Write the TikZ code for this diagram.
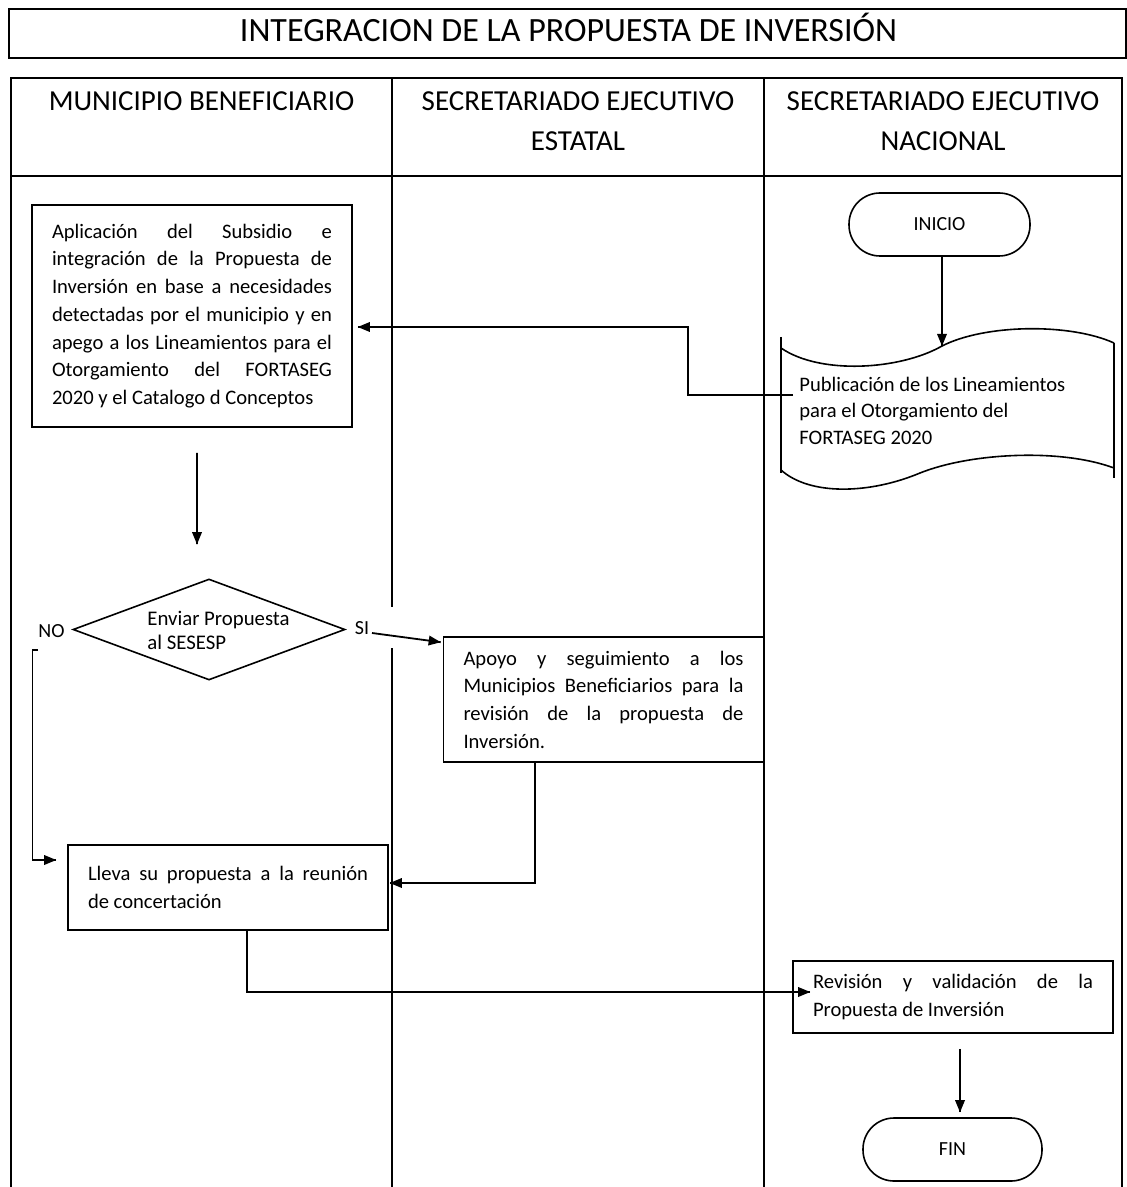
\documentclass[tikz,border=0pt]{standalone}
\usepackage{fontspec}
\setmainfont{Carlito}
\usetikzlibrary{shapes.geometric}
\tolerance=10000
\hyphenpenalty=10000

\begin{document}
\begin{tikzpicture}[x=5pt,y=5pt]
\tikzstyle{every node}+=[inner sep=0pt]
\tikzstyle{linea}=[black, line width=0.8pt]
\tikzstyle{flecha}=[black, line width=0.9pt]
\tikzstyle{caja}=[draw=black, line width=0.8pt, text width=140pt, minimum width=160pt, inner xsep=10pt, align=justify, font=\fontsize{10.3}{13.85}\selectfont]
\tikzstyle{terminal}=[draw=black, line width=0.8pt, rounded corners=15.5pt, minimum width=90.5pt, minimum height=31.5pt, font=\fontsize{10}{12}\selectfont]
\tikzstyle{encabezado}=[anchor=north, align=center, font=\fontsize{14.5}{20}\selectfont]
\tikzstyle{etiqueta}=[font=\fontsize{10}{12}\selectfont]
\useasboundingbox (0,0) rectangle (112.7,-118.7);
\draw [linea] (0.9,-0.9) rectangle (112.6,-5.8);
\node (titulo) at (56.85,-4.2) [anchor=base, font=\fontsize{17}{20}\selectfont] {INTEGRACION DE LA PROPUESTA DE INVERSIÓN};
\draw [linea] (1.1,-118.7) -- (1.1,-7.8) -- (112.2,-7.8) -- (112.2,-118.7);
\draw [linea] (1.1,-17.6) -- (112.2,-17.6);
\draw [linea] (39.2,-7.8) -- (39.2,-60.7);
\draw [linea] (39.2,-64.8) -- (39.2,-118.7);
\draw [linea] (76.4,-7.8) -- (76.4,-118.7);
\node (municipio) at (20.15,-9.1) [encabezado] {MUNICIPIO BENEFICIARIO};
\node (estatal) at (57.8,-9.1) [encabezado] {SECRETARIADO EJECUTIVO\\ESTATAL};
\node (nacional) at (94.3,-9.1) [encabezado] {SECRETARIADO EJECUTIVO\\NACIONAL};
\node (aplicacion) at (19.2,-31.6) [caja, minimum height=111pt] {Aplicación del Subsidio e\linebreak integración de la Propuesta de\linebreak Inversión en base a necesidades\linebreak detectadas por el municipio y en\linebreak apego a los Lineamientos para el\linebreak Otorgamiento del FORTASEG\linebreak 2020 y el Catalogo d Conceptos};
\node (apoyo) at (60.35,-69.95) [caja, minimum height=62.5pt] {Apoyo y seguimiento a los\linebreak Municipios Beneficiarios para la\linebreak revisión de la propuesta de\linebreak Inversión.};
\node (lleva) at (22.8,-88.75) [caja, minimum height=42.5pt] {Lleva su propuesta a la reunión\linebreak de concertación};
\node (revision) at (95.3,-99.7) [caja, minimum height=36pt] {Revisión y validación de la\linebreak Propuesta de Inversión};
\node (inicio) at (93.95,-22.45) [terminal] {INICIO};
\node (fin) at (95.25,-114.95) [terminal, minimum width=89.5pt] {FIN};
\node (enviar) at (20.9,-62.95) [diamond, draw=black, line width=0.8pt, minimum width=136pt, minimum height=50.5pt] {};
\node (enviartxt) at (14.7,-63.0) [anchor=west, align=left, font=\fontsize{10.4}{12}\selectfont] {Enviar Propuesta\\al SESESP};
\node (no) at (5.15,-63.1) [etiqueta] {NO};
\node (si) at (36.2,-62.8) [etiqueta] {SI};
\draw [linea] (78.1,-33.7) -- (78.1,-47.3);
\draw [linea] (111.4,-34.3) -- (111.4,-47.8);
\draw [linea] (78.1,-34.8) .. controls (82,-37.5) and (90,-37) .. (94.2,-34.6) .. controls (98.5,-32.4) and (107,-32.3) .. (111.4,-34.3);
\draw [linea] (78.1,-47.0) .. controls (81,-49.6) and (87,-49.4) .. (92,-47.3) .. controls (97,-45.3) and (106,-44.8) .. (111.4,-46.8);
\node (publicacion) at (79.9,-41.05) [anchor=west, align=left, font=\fontsize{10.3}{13.25}\selectfont] {Publicación de los Lineamientos\\para el Otorgamiento del\\FORTASEG 2020};
\coordinate (docarriba) at (94.2,-34.6);
\coordinate (docizq) at (79.3,-39.5);
\coordinate (noinicio) at (3.8,-65.0);
\coordinate (puntaA) at ([xshift=2.5pt,yshift=-5.5pt]aplicacion.east);
\coordinate (puntaB) at ([xshift=-6pt,yshift=17pt]enviar.north);
\coordinate (puntaC) at ([xshift=-1pt,yshift=-3pt]apoyo.north west);
\coordinate (puntaD) at ([xshift=0.5pt,yshift=2.25pt]lleva.east);
\coordinate (puntaE) at ([xshift=-5.5pt,yshift=13.75pt]lleva.west);
\coordinate (puntaF) at ([xshift=9pt,yshift=2.5pt]revision.west);
\coordinate (puntaG) at ([xshift=3.75pt,yshift=2.5pt]fin.north);
\draw [flecha] ([xshift=1.25pt]inicio.south) -- (docarriba);
\fill [black] (docarriba) -- ++(-0.5,1.2) -- ++(1,0) -- cycle;
\draw [flecha] (docizq) -- ++(-10.5,0) |- (puntaA);
\fill [black] (puntaA) -- ++(1.2,0.5) -- ++(0,-1) -- cycle;
\draw [flecha] ([xshift=2.5pt,yshift=-12.5pt]aplicacion.south) -- (puntaB);
\fill [black] (puntaB) -- ++(-0.5,1.2) -- ++(1,0) -- cycle;
\draw [flecha] ([xshift=5pt,yshift=-2.5pt]si.center) -- (puntaC);
\fill [black] (puntaC) -- ++(-1.12,0.66) -- ++(-0.14,-0.99) -- cycle;
\draw [flecha] ([xshift=-34.25pt]apoyo.south) |- (puntaD);
\fill [black] (puntaD) -- ++(1.2,0.5) -- ++(0,-1) -- cycle;
\draw [flecha] (noinicio) -- ++(-0.55,0) |- (puntaE);
\fill [black] (puntaE) -- ++(-1.2,0.5) -- ++(0,-1) -- cycle;
\draw [flecha] ([xshift=9.5pt]lleva.south) |- (puntaF);
\fill [black] (puntaF) -- ++(-1.2,0.5) -- ++(0,-1) -- cycle;
\draw [flecha] ([xshift=3.5pt,yshift=-7.5pt]revision.south) -- (puntaG);
\fill [black] (puntaG) -- ++(-0.5,1.2) -- ++(1,0) -- cycle;
\end{tikzpicture}
\end{document}
